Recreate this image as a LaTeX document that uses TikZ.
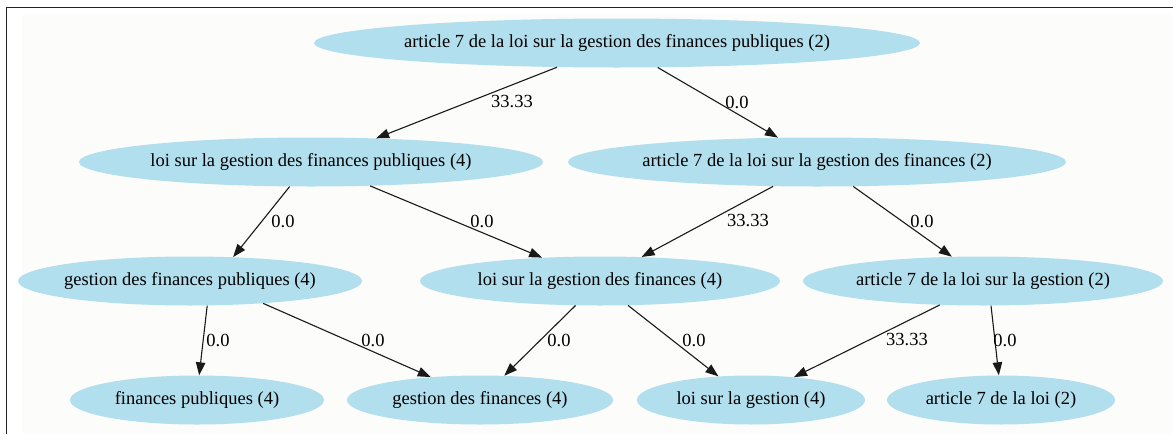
\documentclass[tikz,border=0pt]{standalone}
\usepackage{fontspec}
\setmainfont{Liberation Serif}
\usetikzlibrary{shapes.geometric,arrows.meta}
\definecolor{nodeblue}{HTML}{B2DFEE}
\definecolor{bgcol}{HTML}{FCFCFB}
\definecolor{framecol}{HTML}{222222}
\tikzset{
  x=1pt, y=-1pt,
  nd/.style={ellipse, fill=nodeblue, inner xsep=-40pt, inner ysep=-5pt, minimum height=49pt, font=\fontsize{18.5}{20}\selectfont},
  edge/.style={draw=black!90, line width=1.1pt, -{Triangle[length=13pt,width=9.5pt]}},
  lbl/.style={font=\fontsize{18.5}{20}\selectfont, inner sep=0pt}
}
\begin{document}
\begin{tikzpicture}
\useasboundingbox (0,0) rectangle (1173,434);
\fill[bgcol] (22,14) rectangle (1173,434);
\draw[framecol, line width=1.2pt] (6.5,434) -- (6.5,7.5) -- (1173,7.5);

\node[nd, minimum width=606pt] (top) at (617,43) {article 7 de la loi sur la gestion des finances publiques (2)};
\node[nd, minimum width=464pt] (r2a) at (311,162) {loi sur la gestion des finances publiques (4)};
\node[nd, minimum width=498pt] (r2b) at (817,162) {article 7 de la loi sur la gestion des finances (2)};
\node[nd, minimum width=344pt] (r3a) at (190,281) {gestion des finances publiques (4)};
\node[nd, minimum width=360pt] (r3b) at (600,281) {loi sur la gestion des finances (4)};
\node[nd, minimum width=360pt] (r3c) at (983,281) {article 7 de la loi sur la gestion (2)};
\node[nd, minimum width=254pt] (r4a) at (197,400) {finances publiques (4)};
\node[nd, minimum width=266pt] (r4b) at (480,400) {gestion des finances (4)};
\node[nd, minimum width=228pt] (r4c) at (751,400) {loi sur la gestion (4)};
\node[nd, minimum width=228pt] (r4d) at (1001,400) {article 7 de la loi (2)};

\draw[edge] (top.-158.8) -- (r2a.20.7) node[lbl] at (512,102) {33.33};
\draw[edge] (top.-31) -- (r2b.148) node[lbl] at (737,102) {0.0};
\draw[edge] (r2a.-131) -- (r3a.29) node[lbl] at (283,221) {0.0};
\draw[edge] (r2a.-22) -- (r3b.158) node[lbl] at (482,221) {0.0};
\draw[edge] (r2b.-151) -- (r3b.30) node[lbl] at (748,221) {33.33};
\draw[edge] (r2b.-34) -- (r3c.142) node[lbl] at (922,221) {0.0};
\draw[edge] (r3a.-55) -- (r4a.85) node[lbl] at (218,340) {0.0};
\draw[edge] (r3a.-17) -- (r4b.155) node[lbl] at (373,340) {0.0};
\draw[edge] (r3b.-135) -- (r4b.45) node[lbl] at (559,340) {0.0};
\draw[edge] (r3b.-41) -- (r4c.144) node[lbl] at (694,340) {0.0};
\draw[edge] (r3c.-151) -- (r4c.28) node[lbl] at (907,340) {33.33};
\draw[edge] (r3c.-72) -- (r4d.95) node[lbl] at (1005,340) {0.0};
\end{tikzpicture}
\end{document}
